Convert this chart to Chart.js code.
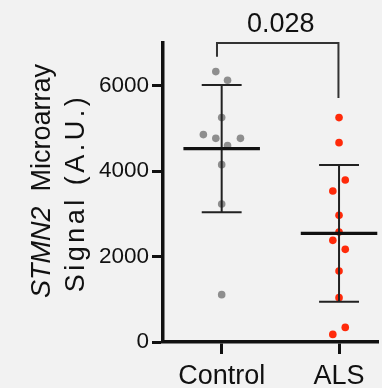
<!DOCTYPE html>
<html>
<head>
<meta charset="utf-8">
<script src="https://cdn.jsdelivr.net/npm/chart.js@4/dist/chart.umd.min.js"></script>
<style>
html,body{margin:0;padding:0;background:#f2f2f2;}
#wrap{width:382px;height:388px;position:relative;}
</style>
</head>
<body>
<div id="wrap"><canvas id="c" width="382" height="388"></canvas></div>
<script>
// ---- data ----
const categories = ["Control", "ALS"];
const controlValues = [6330, 6127, 5253, 4855, 4768, 4768, 4597, 4152, 3232, 1108];
const controlJitter = [-0.05, 0.05, 0, -0.156, -0.05, 0.16, 0.05, 0, 0, 0];
const alsValues = [5253, 4667, 3793, 3536, 2965, 2576, 2380, 2169, 1663, 1038, 342, 178];
const alsJitter = [0, 0, 0.053, -0.053, 0, 0, -0.053, 0.053, 0, 0, 0.053, -0.053];
const groupMeans = [4527, 2543];
const groupSD = [1492, 1600];
const yTicks = [0, 2000, 4000, 6000];
const pValue = "0.028";
const bracketTop = 7000;
const bracketLegBottoms = [6680, 5714];
const bracketX = [-0.04, -0.005];

// ---- styles ----
const FONT = "'Liberation Sans', Arial, Helvetica, sans-serif";
const MEAN_HALF = 0.326, CAP_HALF = 0.17;

function pts(vals, jit, xc) { return vals.map((v, i) => ({x: xc + jit[i], y: v})); }

const lineDatasets = [];
groupMeans.forEach((m, i) => {
  lineDatasets.push({ // mean line
    data: [{x: i - MEAN_HALF, y: m}, {x: i + MEAN_HALF, y: m}],
    showLine: true, borderColor: '#111', borderWidth: 3.2, pointRadius: 0, order: 0
  });
  lineDatasets.push({ // SD vertical + caps
    data: [{x: i, y: m - groupSD[i]}, {x: i, y: m + groupSD[i]}, {x: NaN, y: NaN},
           {x: i - CAP_HALF, y: m + groupSD[i]}, {x: i + CAP_HALF, y: m + groupSD[i]}, {x: NaN, y: NaN},
           {x: i - CAP_HALF, y: m - groupSD[i]}, {x: i + CAP_HALF, y: m - groupSD[i]}],
    showLine: true, spanGaps: false, borderColor: '#222', borderWidth: 2, pointRadius: 0, order: 0
  });
});
// significance bracket
lineDatasets.push({
  data: [{x: bracketX[0], y: bracketLegBottoms[0]}, {x: bracketX[0], y: bracketTop},
         {x: 1 + bracketX[1], y: bracketTop}, {x: 1 + bracketX[1], y: bracketLegBottoms[1]}],
  showLine: true, borderColor: '#333', borderWidth: 2, pointRadius: 0, order: 0, clip: false
});

const titlePlugin = {
  id: 'ytitle',
  afterDraw(chart) {
    const ctx = chart.ctx;
    ctx.save();
    ctx.fillStyle = '#111';
    ctx.textBaseline = 'alphabetic';
    // line 1: italic gene name + Microarray
    ctx.translate(50, 181);
    ctx.rotate(-Math.PI / 2);
    ctx.font = 'italic 27px ' + FONT;
    const w1 = ctx.measureText('STMN2').width;
    ctx.font = '27px ' + FONT;
    const w2 = ctx.measureText('  Microarray').width;
    let x0 = -(w1 + w2) / 2;
    ctx.textAlign = 'left';
    ctx.font = 'italic 27px ' + FONT;
    ctx.fillText('STMN2', x0, 0);
    ctx.font = '27px ' + FONT;
    ctx.fillText('  Microarray', x0 + w1, 0);
    ctx.restore();
    ctx.save();
    ctx.fillStyle = '#111';
    ctx.translate(83.5, 193);
    ctx.rotate(-Math.PI / 2);
    ctx.textAlign = 'center';
    ctx.font = '27px ' + FONT;
    ctx.letterSpacing = '3.5px';
    ctx.fillText('Signal (A.U.)', 0, 0);
    ctx.restore();
    // p-value
    const xs = chart.scales.x, ys = chart.scales.y;
    const cx = (xs.getPixelForValue(bracketX[0]) + xs.getPixelForValue(1 + bracketX[1])) / 2 + 3;
    ctx.save();
    ctx.fillStyle = '#111';
    ctx.font = '27px ' + FONT;
    ctx.textAlign = 'center';
    ctx.textBaseline = 'alphabetic';
    ctx.fillText(pValue, cx, ys.getPixelForValue(bracketTop) - 11);
    ctx.restore();
  }
};

new Chart(document.getElementById('c'), {
  type: 'scatter',
  data: {
    datasets: [
      ...lineDatasets,
      { data: pts(controlValues, controlJitter, 0), backgroundColor: '#8e8e8e', borderWidth: 0, pointRadius: 3.8, order: 1 },
      { data: pts(alsValues, alsJitter, 1), backgroundColor: '#ff2a0a', borderWidth: 0, pointRadius: 3.8, order: 1 }
    ]
  },
  options: {
    responsive: false,
    animation: false,
    events: [],
    layout: { padding: { top: 43, right: 0, left: 0, bottom: 0 } },
    plugins: { legend: { display: false }, tooltip: { enabled: false } },
    scales: {
      x: {
        type: 'linear', min: -0.5, max: 1.332,
        afterBuildTicks(s) { s.ticks = categories.map((c, i) => ({value: i})); },
        afterFit(s) { s.height = 46; },
        ticks: { callback: (v) => categories[v], font: { size: 27, family: FONT }, color: '#111', padding: 6, maxRotation: 0, autoSkip: false },
        grid: { drawOnChartArea: false, drawTicks: true, tickLength: 12, tickWidth: 3, tickColor: '#111' },
        border: { display: true, width: 3.5, color: '#111' }
      },
      y: {
        min: 0, max: 7000,
        afterBuildTicks(s) { s.ticks = yTicks.map(v => ({value: v})); },
        afterFit(s) { s.width = 163; },
        ticks: { font: { size: 22.5, family: FONT }, color: '#111', padding: 3, callback: v => String(v) },
        grid: { drawOnChartArea: false, drawTicks: true, tickLength: 11, tickWidth: 3, tickColor: '#111' },
        border: { display: true, width: 3.5, color: '#111' }
      }
    }
  },
  plugins: [titlePlugin]
});
</script>
</body>
</html>
